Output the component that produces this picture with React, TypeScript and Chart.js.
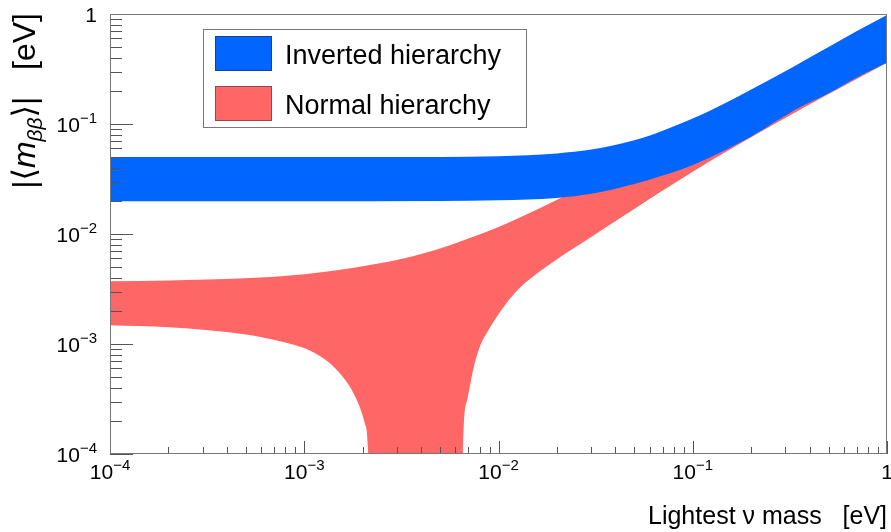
import React, { useEffect, useRef } from 'react';
import { Chart, registerables } from 'chart.js';

Chart.register(...registerables);

const FONT = "'Liberation Sans', 'DejaVu Sans', Arial, sans-serif";

// Inverted hierarchy: lightest mass [eV] and the lower / upper edge of |<m_bb>| [eV]
const ihMass = [1e-4, 1e-3, 5e-3, 1e-2, 2e-2, 3e-2, 5e-2, 7e-2, 0.1, 0.15, 0.2, 0.33, 0.5, 0.7, 1];
const ihLower = [0.0198, 0.0199, 0.02, 0.0203, 0.0213, 0.0232, 0.0285, 0.034, 0.0425, 0.059, 0.077, 0.132, 0.19, 0.265, 0.36];
const ihUpper = [0.05, 0.05, 0.0502, 0.051, 0.054, 0.0585, 0.071, 0.087, 0.112, 0.158, 0.206, 0.332, 0.5, 0.7, 0.98];

// Normal hierarchy: upper edge
const nhUpperMass = [1e-4, 2e-4, 5e-4, 1e-3, 1.5e-3, 2e-3, 3e-3, 5e-3, 7e-3, 1e-2, 1.5e-2, 2e-2, 3e-2, 5e-2, 0.1, 0.2, 0.5, 1];
const nhUpper = [0.00372, 0.00378, 0.00395, 0.0043, 0.0047, 0.0051, 0.0058, 0.0074, 0.0091, 0.0116, 0.016, 0.0205, 0.03, 0.05, 0.1, 0.19, 0.46, 0.9];

// Normal hierarchy: lower edge (the cancellation region drops off the bottom of the axis)
const nhLowerMass = [1e-4, 2e-4, 3e-4, 5e-4, 7.5e-4, 1.1e-3, 1.5e-3, 1.85e-3, 2.05e-3, 2.13e-3, 2.18e-3, 6.5e-3, 6.56e-3, 6.9e-3, 7.4e-3, 8e-3, 8.7e-3, 1.1e-2, 1.3e-2, 1.45e-2, 2e-2, 3e-2, 5.35e-2, 0.123, 0.37, 1];
const nhLower = [0.00148, 0.00142, 0.00135, 0.00122, 0.00106, 0.00085, 0.00056, 0.00032, 0.00019, 0.00011, 0.00001, 0.00001, 0.0001, 0.00031, 0.00058, 0.00094, 0.00126, 0.00236, 0.0033, 0.0039, 0.0059, 0.0094, 0.0183, 0.046, 0.14, 0.36];

// Axis decades and their exponent labels
const decades = [1e-4, 1e-3, 1e-2, 1e-1, 1];
const decadeExponents = ['\u22124', '\u22123', '\u22122', '\u22121', ''];

const legendLabels = ['Inverted hierarchy', 'Normal hierarchy'];
const bandFill = ['#0066ff', '#ff6666'];
const bandEdge = ['#1a3f8f', '#8c4a4a'];

const xTitle = 'Lightest \u03bd mass   [eV]';

const toPoints = (xs: number[], ys: number[]) => xs.map((x, i) => ({ x, y: ys[i] }));

function edge(label: string, xs: number[], ys: number[], color: string, fill: any) {
  return {
    label,
    data: toPoints(xs, ys),
    showLine: true,
    fill,
    backgroundColor: color,
    borderColor: color,
    borderWidth: 0,
    pointRadius: 0,
    cubicInterpolationMode: 'monotone',
  };
}

function drawPower(ctx: CanvasRenderingContext2D, exp: string, x: number, y: number, align: 'center' | 'right') {
  const baseFont = `21px ${FONT}`;
  const supFont = `15px ${FONT}`;
  const base = exp ? '10' : '1';
  ctx.font = baseFont;
  const wb = ctx.measureText(base).width;
  ctx.font = supFont;
  const we = exp ? ctx.measureText(exp).width : 0;
  const total = wb + we;
  const x0 = align === 'center' ? x - total / 2 : x - total;
  ctx.textAlign = 'left';
  ctx.textBaseline = 'alphabetic';
  ctx.font = baseFont;
  ctx.fillText(base, x0, y);
  if (exp) {
    ctx.font = supFont;
    ctx.fillText(exp, x0 + wb, y - 9);
  }
}

const rootAxes = {
  id: 'rootAxes',
  afterDatasetsDraw(chart: any) {
    const { ctx, chartArea: a, scales } = chart;
    const xs = scales.x;
    const ys = scales.y;
    ctx.save();
    ctx.strokeStyle = '#555';
    ctx.lineWidth = 1;
    ctx.beginPath();
    for (let d = -4; d <= 0; d++) {
      for (let k = 1; k <= 9; k++) {
        const v = k * Math.pow(10, d);
        if (v > 1.0001) break;
        const px = Math.round(xs.getPixelForValue(v)) + 0.5;
        const lenX = k === 1 ? 13 : 7;
        ctx.moveTo(px, a.bottom);
        ctx.lineTo(px, a.bottom - lenX);
        const py = Math.round(ys.getPixelForValue(v)) + 0.5;
        const lenY = k === 1 ? 23 : 12;
        ctx.moveTo(a.left, py);
        ctx.lineTo(a.left + lenY, py);
      }
    }
    ctx.stroke();
    ctx.strokeStyle = '#777';
    ctx.strokeRect(a.left + 0.5, a.top + 0.5, a.right - a.left - 1, a.bottom - a.top - 1);
    ctx.restore();
  },
  afterDraw(chart: any) {
    const { ctx, chartArea: a, scales } = chart;
    const xs = scales.x;
    const ys = scales.y;
    ctx.save();
    ctx.fillStyle = '#000';
    decades.forEach((v, i) => {
      const px = xs.getPixelForValue(v);
      drawPower(ctx, decadeExponents[i], px, a.bottom + 25, 'center');
      const py = ys.getPixelForValue(v);
      drawPower(ctx, decadeExponents[i], a.left - 13, py + 8, 'right');
    });

    // x title
    ctx.font = `25px ${FONT}`;
    ctx.textAlign = 'right';
    ctx.textBaseline = 'alphabetic';
    ctx.fillText(xTitle, a.right, 524);

    // y title, rotated, ending at the top of the frame
    ctx.save();
    ctx.translate(35, 13);
    ctx.rotate(-Math.PI / 2);
    const big = `32px ${FONT}`;
    const ital = `italic 32px ${FONT}`;
    const sub = `italic 21px ${FONT}`;
    const parts: [string, string, number][] = [
      ['|\u27e8', big, 0],
      ['m', ital, 0],
      ['\u03b2\u03b2', sub, 7],
      ['\u27e9|', big, 0],
      ['   [eV]', big, 0],
    ];
    let total = 0;
    parts.forEach(([t, f]) => { ctx.font = f; total += ctx.measureText(t).width; });
    let cx = -total;
    ctx.textAlign = 'left';
    parts.forEach(([t, f, dy]) => {
      ctx.font = f;
      ctx.fillText(t, cx, dy);
      cx += ctx.measureText(t).width;
    });
    ctx.restore();

    // legend
    const lx = 203, ly = 29, lw = 324, lh = 99;
    ctx.fillStyle = '#fff';
    ctx.fillRect(lx, ly, lw, lh);
    ctx.strokeStyle = '#777';
    ctx.lineWidth = 1;
    ctx.strokeRect(lx + 0.5, ly + 0.5, lw - 1, lh - 1);
    legendLabels.forEach((label, i) => {
      const sy = 36 + i * 50;
      ctx.fillStyle = bandFill[i];
      ctx.fillRect(215, sy, 57, 35);
      ctx.strokeStyle = bandEdge[i];
      ctx.strokeRect(215.5, sy + 0.5, 56, 34);
      ctx.fillStyle = '#000';
      ctx.font = `27px ${FONT}`;
      ctx.textAlign = 'left';
      ctx.textBaseline = 'alphabetic';
      ctx.fillText(label, 285, sy + 28);
    });
    ctx.restore();
  },
};

export default function App() {
  const ref = useRef<HTMLCanvasElement>(null);
  useEffect(() => {
    document.body.style.margin = '0';
    const canvas = ref.current;
    if (!canvas) return;
    const chart = new Chart(canvas, {
      type: 'scatter',
      data: {
        datasets: [
          // index 0 is painted last, so the inverted band sits on top
          edge(legendLabels[0], ihMass, ihUpper, bandFill[0], '+1'),
          edge(legendLabels[0], ihMass, ihLower, bandFill[0], false),
          edge(legendLabels[1], nhUpperMass, nhUpper, bandFill[1], '+1'),
          edge(legendLabels[1], nhLowerMass, nhLower, bandFill[1], false),
        ],
      },
      options: {
        animation: false,
        responsive: false,
        events: [],
        layout: { padding: { left: 110, top: 14, right: 4, bottom: 78 } },
        scales: {
          x: { type: 'logarithmic', min: 1e-4, max: 1, display: false },
          y: { type: 'logarithmic', min: 1e-4, max: 1, display: false },
        },
        plugins: { legend: { display: false }, tooltip: { enabled: false } },
      },
      plugins: [rootAxes],
    } as any);
    return () => chart.destroy();
  }, []);
  return <canvas ref={ref} width={891} height={532} style={{ display: 'block' }} />;
}
